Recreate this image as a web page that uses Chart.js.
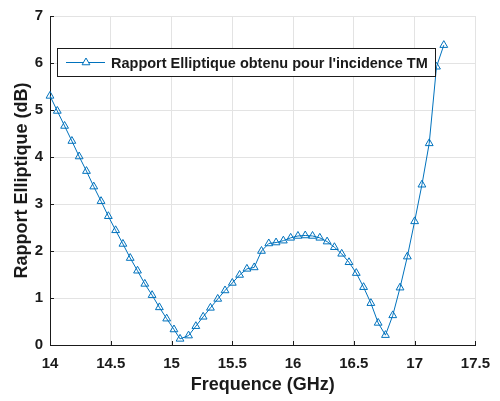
<!DOCTYPE html>
<html>
<head>
<meta charset="utf-8">
<script src="https://cdn.jsdelivr.net/npm/chart.js@4.4.1/dist/chart.umd.min.js"></script>
<style>
  html, body { margin: 0; padding: 0; background: #fff; }
  #wrap { width: 500px; height: 401px; position: relative; }
</style>
</head>
<body>
<div id="wrap"><canvas id="chart"></canvas></div>
<script>
// values
const freqGHz = [
  14.00, 14.06, 14.12, 14.18, 14.24, 14.30, 14.36, 14.42, 14.48, 14.54,
  14.60, 14.66, 14.72, 14.78, 14.84, 14.90, 14.96, 15.02, 15.07, 15.14,
  15.20, 15.26, 15.32, 15.38, 15.44, 15.50, 15.56, 15.62, 15.68, 15.74,
  15.80, 15.86, 15.92, 15.98, 16.04, 16.10, 16.16, 16.22, 16.28, 16.34,
  16.40, 16.46, 16.52, 16.58, 16.64, 16.70, 16.76, 16.82, 16.88, 16.94,
  17.00, 17.06, 17.12, 17.18, 17.24
];
const rapportDB = [
  5.30, 4.98, 4.66, 4.34, 4.01, 3.70, 3.37, 3.06, 2.74, 2.44,
  2.15, 1.85, 1.58, 1.30, 1.06, 0.80, 0.56, 0.33, 0.13, 0.20,
  0.40, 0.60, 0.79, 0.98, 1.16, 1.32, 1.49, 1.62, 1.65, 2.00,
  2.16, 2.18, 2.22, 2.28, 2.32, 2.33, 2.32, 2.28, 2.20, 2.08,
  1.94, 1.76, 1.53, 1.23, 0.89, 0.47, 0.21, 0.63, 1.22, 1.88,
  2.63, 3.41, 4.29, 5.92, 6.38
];
const xTicks = [14, 14.5, 15, 15.5, 16, 16.5, 17, 17.5];
const yTicks = [0, 1, 2, 3, 4, 5, 6, 7];
const seriesLabel = "Rapport Elliptique obtenu pour l'incidence TM";

const BLUE = '#0072BD';
const INK = '#1a1a1a';
const GRID = '#e3e3e3';
const FONT = '"Liberation Sans", Arial, sans-serif';

// inward tick marks like the original (left + bottom axes)
const innerTicks = {
  id: 'innerTicks',
  afterDraw(chart) {
    const { ctx, chartArea: a, scales: { x, y } } = chart;
    ctx.save();
    ctx.strokeStyle = INK;
    ctx.lineWidth = 1;
    ctx.beginPath();
    xTicks.forEach(v => {
      const px = Math.round(x.getPixelForValue(v)) + 0.5;
      ctx.moveTo(px, a.bottom); ctx.lineTo(px, a.bottom - 4);
    });
    yTicks.forEach(v => {
      const py = Math.round(y.getPixelForValue(v)) + 0.5;
      ctx.moveTo(a.left, py); ctx.lineTo(a.left + 4, py);
    });
    ctx.stroke();
    ctx.restore();
  }
};

// legend box drawn inside the plot, top-left
const insideLegend = {
  id: 'insideLegend',
  afterDraw(chart) {
    const ctx = chart.ctx;
    const L = 57.5, T = 48.5, R = 435.5, B = 76.5;
    const cy = (T + B) / 2;
    ctx.save();
    ctx.fillStyle = '#fff';
    ctx.fillRect(L, T, R - L, B - T);
    ctx.strokeStyle = INK;
    ctx.lineWidth = 1;
    ctx.strokeRect(L, T, R - L, B - T);
    ctx.strokeStyle = BLUE;
    ctx.beginPath();
    ctx.moveTo(66, cy); ctx.lineTo(105, cy);
    ctx.stroke();
    const r = 4.5, mx = 86;
    ctx.fillStyle = '#fff';
    ctx.beginPath();
    ctx.moveTo(mx, cy - r);
    ctx.lineTo(mx + r * 0.866, cy + r * 0.5);
    ctx.lineTo(mx - r * 0.866, cy + r * 0.5);
    ctx.closePath();
    ctx.fill(); ctx.stroke();
    ctx.fillStyle = INK;
    ctx.font = 'bold 14.5px ' + FONT;
    ctx.textBaseline = 'middle';
    ctx.fillText(seriesLabel, 111, cy + 1);
    ctx.restore();
  }
};

const points = freqGHz.map((f, i) => ({ x: f, y: rapportDB[i] }));

new Chart(document.getElementById('chart'), {
  type: 'line',
  data: {
    datasets: [{
      label: seriesLabel,
      data: points,
      borderColor: BLUE,
      borderWidth: 1,
      tension: 0,
      pointStyle: 'triangle',
      pointRadius: 4.5,
      pointBorderWidth: 1,
      pointBorderColor: BLUE,
      pointBackgroundColor: 'rgba(0,0,0,0)',
      clip: false
    }]
  },
  options: {
    responsive: true,
    maintainAspectRatio: false,
    animation: false,
    layout: { padding: { top: 13, right: 18, left: 0, bottom: 0 } },
    plugins: {
      legend: { display: false },
      tooltip: { enabled: false }
    },
    scales: {
      x: {
        type: 'linear',
        min: 14, max: 17.5,
        afterBuildTicks: s => { s.ticks = xTicks.map(v => ({ value: v })); },
        afterFit: s => { s.height = 56; },
        grid: { color: GRID, drawTicks: false },
        border: { color: INK, width: 1 },
        ticks: {
          color: INK, padding: 10, maxRotation: 0,
          font: { family: FONT, size: 15, weight: 'bold' },
          callback: v => String(v)
        },
        title: {
          display: true, text: 'Frequence (GHz)', color: INK,
          font: { family: FONT, size: 18, weight: 'bold' },
          padding: { top: 0, bottom: 5 }
        }
      },
      y: {
        min: 0, max: 7,
        afterBuildTicks: s => { s.ticks = yTicks.map(v => ({ value: v })); },
        afterFit: s => { s.width = 50; },
        grid: { color: GRID, drawTicks: false },
        border: { color: INK, width: 1 },
        ticks: {
          color: INK, padding: 7,
          font: { family: FONT, size: 15, weight: 'bold' },
          callback: v => String(v)
        },
        title: {
          display: true, text: 'Rapport Elliptique (dB)', color: INK,
          font: { family: FONT, size: 18, weight: 'bold' },
          padding: { top: 11, bottom: 0 }
        }
      }
    }
  },
  plugins: [innerTicks, insideLegend]
});
</script>
</body>
</html>
